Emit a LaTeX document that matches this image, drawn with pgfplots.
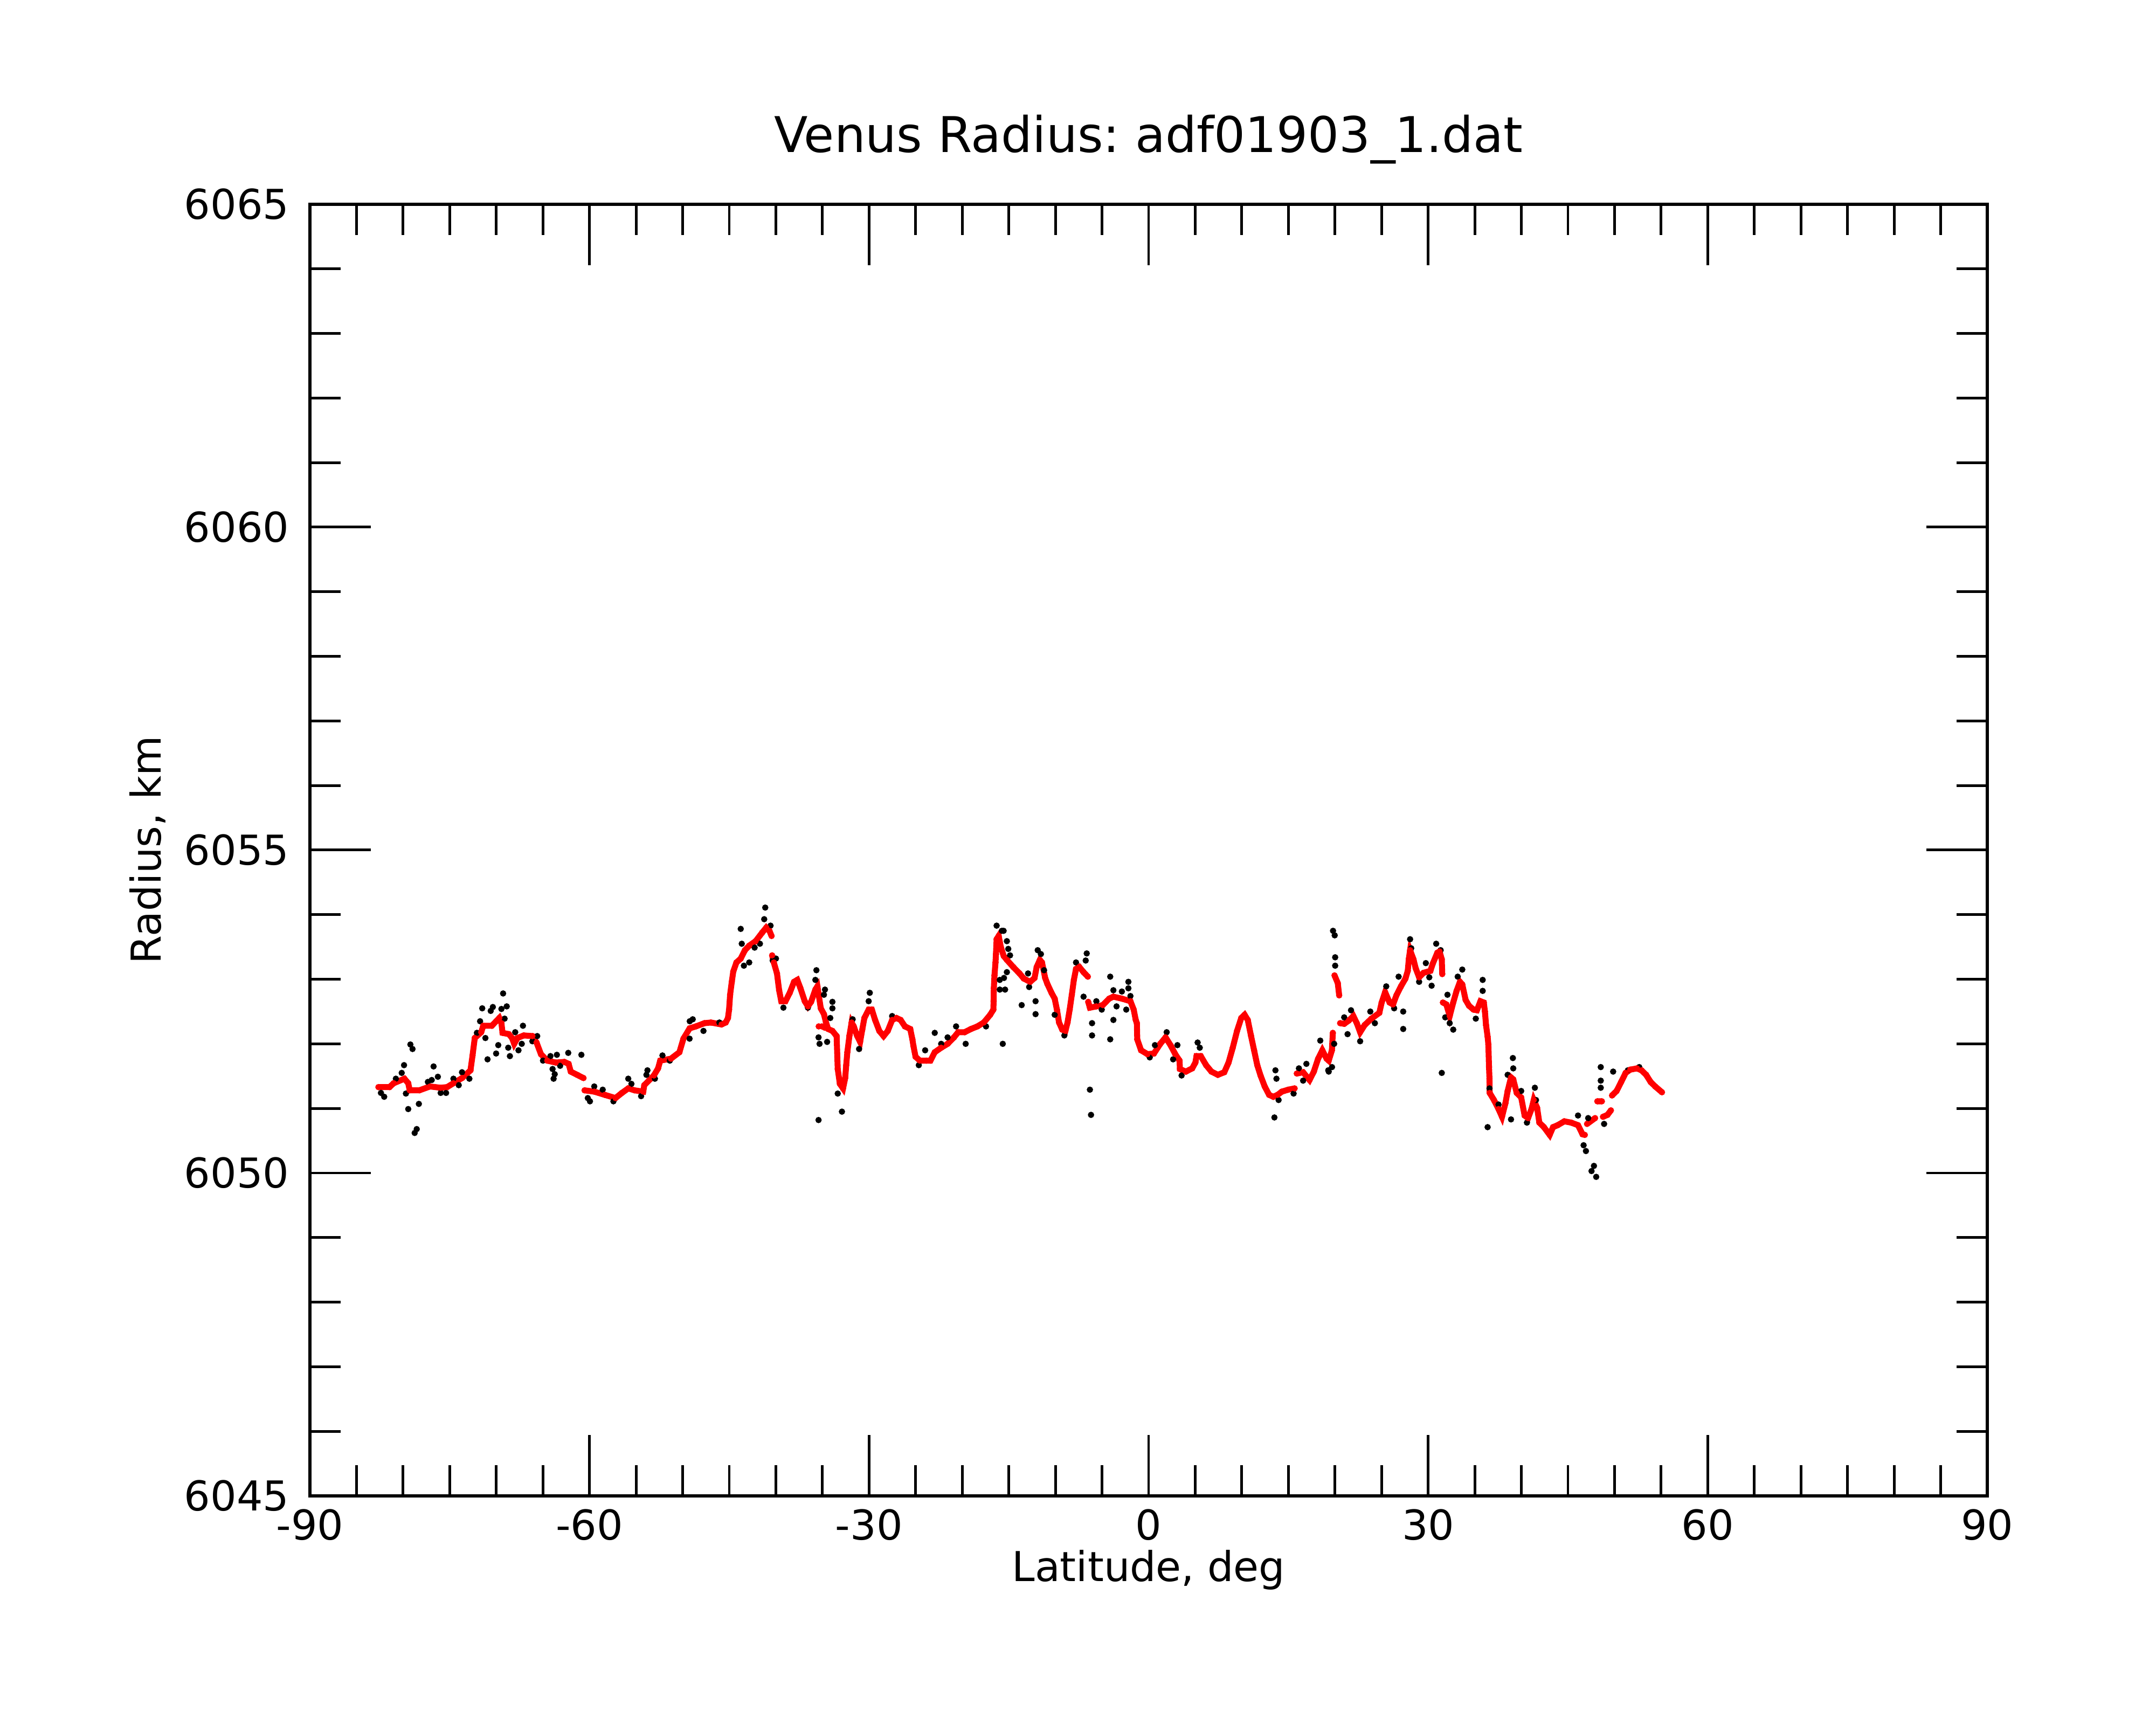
\documentclass[border=0pt]{standalone}
\usepackage{fontspec}
\setmainfont{DejaVu Sans}
\usepackage{pgfplots}
\usepackage{pgfplotstable}
\pgfplotsset{compat=1.18}

\pgfplotstableread{
lat r
-82.65 6051.33
-81.46 6051.33
-81.01 6051.39
-79.86 6051.46
-79.45 6051.39
-79.29 6051.28
-78.26 6051.28
-77.11 6051.34
-75.97 6051.32
-75.28 6051.33
-74.60 6051.39
-73.68 6051.47
-72.77 6051.59
-72.55 6051.82
-72.31 6052.09
-71.62 6052.18
-71.40 6052.28
-70.48 6052.28
-69.68 6052.40
-69.45 6052.32
-69.33 6052.17
-68.65 6052.15
-68.31 6052.09
-68.08 6052.00
-67.73 6052.09
-67.05 6052.13
-66.13 6052.12
-65.68 6052.02
-65.21 6051.84
-64.53 6051.74
-63.62 6051.71
-62.70 6051.72
-62.24 6051.69
-62.01 6051.57
-61.33 6051.52
-60.64 6051.47
-60.60 nan
-60.53 6051.28
-59.49 6051.26
-58.36 6051.21
-57.21 6051.16
-56.52 6051.24
-55.84 6051.31
-55.16 6051.28
-54.23 6051.26
-54.12 6051.36
-53.09 6051.51
-52.64 6051.62
-52.41 6051.74
-51.26 6051.77
-50.35 6051.87
-49.92 6052.08
-49.25 6052.24
-48.58 6052.27
-47.66 6052.32
-46.97 6052.33
-45.83 6052.30
-45.38 6052.33
-45.14 6052.40
-45.02 6052.53
-44.91 6052.76
-44.73 6052.96
-44.57 6053.12
-44.23 6053.26
-43.77 6053.32
-43.32 6053.45
-42.86 6053.52
-42.17 6053.59
-41.48 6053.72
-41.03 6053.80
-40.69 6053.75
-40.46 6053.67
-40.43 nan
-40.40 6053.37
-40.22 6053.26
-39.88 6053.09
-39.65 6052.83
-39.42 6052.66
-38.97 6052.66
-38.51 6052.79
-38.05 6052.96
-37.70 6052.99
-37.36 6052.86
-36.90 6052.66
-36.56 6052.58
-36.22 6052.65
-35.76 6052.84
-35.54 6052.89
-35.18 6052.55
-34.84 6052.46
-34.62 6052.33
-34.39 6052.23
-33.93 6052.20
-33.48 6052.12
-33.36 6051.61
-33.13 6051.38
-32.79 6051.31
-32.56 6051.47
-32.45 6051.67
-32.33 6051.87
-32.10 6052.13
-31.87 6052.33
-31.64 6052.27
-31.30 6052.13
-30.96 6052.03
-30.73 6052.22
-30.50 6052.40
-30.04 6052.53
-29.70 6052.53
-29.35 6052.37
-28.90 6052.20
-28.44 6052.12
-27.99 6052.20
-27.52 6052.37
-27.06 6052.40
-26.61 6052.37
-26.15 6052.27
-25.58 6052.23
-25.35 6052.07
-25.24 6051.97
-25.01 6051.80
-24.55 6051.74
-23.86 6051.74
-23.41 6051.74
-22.95 6051.87
-22.26 6051.94
-21.57 6052.00
-20.89 6052.10
-20.44 6052.18
-19.74 6052.18
-19.06 6052.23
-18.37 6052.27
-17.69 6052.33
-17.00 6052.45
-16.66 6052.53
-16.63 6052.66
-16.61 6052.86
-16.54 6053.06
-16.43 6053.26
-16.38 6053.39
-16.31 6053.62
-16.09 6053.67
-15.86 6053.50
-15.55 6053.36
-15.21 6053.30
-14.53 6053.19
-13.85 6053.09
-13.39 6053.01
-12.71 6052.96
-12.24 6053.02
-12.01 6053.19
-11.67 6053.30
-11.44 6053.26
-11.10 6053.02
-10.87 6052.93
-10.42 6052.79
-10.08 6052.70
-9.84 6052.53
-9.61 6052.33
-9.27 6052.22
-8.93 6052.20
-8.70 6052.33
-8.47 6052.53
-8.24 6052.76
-8.02 6052.99
-7.79 6053.16
-7.44 6053.19
-6.98 6053.11
-6.52 6053.04
-6.50 nan
-6.48 6052.65
-6.30 6052.56
-5.61 6052.58
-4.92 6052.60
-4.23 6052.70
-3.78 6052.73
-2.87 6052.70
-1.95 6052.66
-1.60 6052.53
-1.38 6052.37
-1.26 6052.32
-1.22 6052.07
-0.81 6051.90
-0.12 6051.84
0.57 6051.85
1.25 6052.00
1.82 6052.10
2.39 6051.97
2.86 6051.84
3.32 6051.74
3.36 6051.61
4.00 6051.57
4.68 6051.62
5.02 6051.71
5.14 6051.81
5.60 6051.81
6.17 6051.67
6.74 6051.57
7.43 6051.52
8.12 6051.56
8.58 6051.71
9.03 6051.94
9.49 6052.20
9.94 6052.40
10.30 6052.45
10.64 6052.37
10.98 6052.13
11.32 6051.90
11.66 6051.67
12.01 6051.51
12.46 6051.34
12.93 6051.21
13.38 6051.18
13.84 6051.21
14.30 6051.26
14.98 6051.29
15.67 6051.31
15.78 nan
15.90 6051.54
16.58 6051.56
17.27 6051.44
17.73 6051.57
18.19 6051.77
18.64 6051.90
19.10 6051.77
19.33 6051.74
19.67 6051.90
19.77 6052.17
19.85 nan
19.95 6053.06
20.30 6052.94
20.45 6052.75
20.50 nan
20.55 6052.32
20.99 6052.31
21.48 6052.36
21.97 6052.43
22.34 6052.32
22.70 6052.18
23.18 6052.29
23.91 6052.39
24.76 6052.48
25.01 6052.64
25.38 6052.80
25.86 6052.64
26.23 6052.61
26.59 6052.75
27.08 6052.89
27.56 6053.01
27.81 6053.13
27.93 6053.32
28.06 6053.45
28.42 6053.31
28.66 6053.17
29.03 6053.03
29.51 6053.10
30.24 6053.13
30.49 6053.24
30.98 6053.41
31.22 6053.43
31.46 6053.31
31.51 6053.08
31.55 nan
31.58 6052.64
31.95 6052.61
32.31 6052.43
32.69 6052.64
33.05 6052.82
33.41 6052.96
33.66 6052.92
34.02 6052.68
34.38 6052.59
34.87 6052.53
35.23 6052.52
35.61 6052.66
35.97 6052.64
36.09 6052.50
36.21 6052.29
36.38 6052.11
36.46 6051.99
36.53 6051.64
36.58 6051.46
36.60 6051.24
37.06 6051.13
37.55 6050.99
37.92 6050.87
38.29 6051.08
38.53 6051.27
38.89 6051.48
39.13 6051.45
39.50 6051.24
39.98 6051.17
40.35 6050.89
40.72 6050.85
41.09 6050.99
41.33 6051.13
41.69 6051.01
41.93 6050.78
42.42 6050.71
43.04 6050.59
43.40 6050.71
43.89 6050.74
44.61 6050.80
45.35 6050.78
46.08 6050.74
46.56 6050.60
46.81 6050.59
46.90 nan
47.05 6050.76
47.91 6050.85
48.00 nan
48.15 6051.11
48.64 6051.11
48.70 nan
48.76 6050.87
49.24 6050.90
49.61 6050.97
49.67 nan
49.73 6051.20
50.22 6051.27
50.71 6051.41
51.19 6051.55
51.68 6051.60
52.41 6051.62
52.89 6051.59
53.39 6051.52
53.87 6051.41
54.36 6051.34
55.09 6051.25
}\redtable

\pgfplotstableread{
lat r
-82.38 6051.24
-82.03 6051.18
-80.78 6051.46
-80.15 6051.55
-79.90 6051.67
-79.22 6051.99
-78.99 6051.92
-79.70 6051.23
-79.45 6050.99
-78.31 6051.07
-78.76 6050.62
-78.54 6050.68
-77.34 6051.41
-76.93 6051.44
-76.73 6051.65
-76.27 6051.49
-75.97 6051.24
-75.39 6051.24
-74.60 6051.46
-74.03 6051.36
-73.68 6051.56
-72.89 6051.46
-72.08 6052.17
-71.74 6052.35
-71.51 6052.55
-71.17 6052.09
-70.94 6051.76
-70.60 6052.51
-70.37 6052.57
-70.02 6051.85
-69.79 6051.98
-69.45 6052.54
-69.27 6052.78
-69.11 6052.39
-68.88 6052.58
-68.54 6051.81
-68.72 6051.94
-67.97 6052.18
-67.62 6051.90
-67.27 6052.00
-67.14 6052.28
-66.13 6052.04
-65.61 6052.12
-64.99 6051.74
-64.19 6051.81
-63.96 6051.61
-63.73 6051.53
-63.85 6051.46
-63.50 6051.83
-63.15 6051.66
-62.28 6051.86
-60.87 6051.83
-60.18 6051.16
-59.95 6051.11
-59.49 6051.34
-58.58 6051.29
-57.43 6051.11
-55.84 6051.46
-55.50 6051.38
-54.46 6051.19
-53.78 6051.59
-53.89 6051.52
-52.98 6051.46
-52.17 6051.82
-51.38 6051.74
-49.24 6052.35
-49.26 6052.08
-48.92 6052.38
-47.77 6052.20
-46.06 6052.33
-43.77 6053.78
-43.66 6053.55
-43.43 6053.21
-42.86 6053.26
-42.28 6053.49
-41.71 6053.55
-41.25 6053.93
-41.14 6054.11
-40.57 6053.83
-40.34 6053.29
-39.99 6053.32
-39.19 6052.56
-36.56 6052.56
-35.65 6053.14
-35.76 6052.99
-35.42 6052.10
-35.31 6052.00
-35.42 6050.82
-34.73 6052.84
-34.84 6052.76
-33.93 6052.65
-33.93 6052.55
-34.50 6052.03
-34.16 6052.40
-33.36 6051.23
-32.91 6050.95
-31.76 6052.38
-31.07 6051.92
-29.92 6052.79
-30.04 6052.66
-27.52 6052.43
-24.66 6051.67
-23.98 6051.90
-22.95 6052.17
-22.26 6052.00
-21.57 6052.10
-20.66 6052.27
-19.63 6052.00
-17.45 6052.27
-16.31 6053.83
-15.74 6053.75
-15.06 6053.47
-15.97 6052.99
-15.52 6053.02
-15.97 6052.84
-15.40 6052.84
-15.65 6052.00
-15.56 6053.75
-15.21 6053.59
-14.87 6053.37
-15.21 6053.11
-13.62 6052.60
-12.94 6053.09
-12.82 6052.88
-12.13 6052.66
-12.13 6052.46
-11.90 6053.45
-11.56 6053.39
-11.22 6053.14
-10.08 6052.45
-9.04 6052.13
-7.79 6053.26
-6.64 6053.40
-6.75 6053.29
-6.98 6052.73
-6.30 6051.29
-6.18 6050.90
-6.07 6052.32
-6.07 6052.13
-5.61 6052.66
-5.03 6052.53
-4.12 6053.04
-3.78 6052.37
-4.12 6052.07
-3.78 6052.83
-3.44 6052.58
-2.87 6052.81
-2.40 6052.53
-2.17 6052.96
-2.17 6052.86
-1.95 6052.74
0.12 6051.79
0.68 6051.98
1.94 6052.18
3.09 6051.98
2.63 6051.76
3.54 6051.51
5.26 6052.02
5.49 6051.94
13.61 6051.59
13.72 6051.46
13.50 6050.86
13.95 6051.13
15.56 6051.23
16.13 6051.62
16.93 6051.69
16.58 6051.43
18.42 6052.05
19.33 6051.57
19.79 6053.75
20.02 6053.34
20.02 6053.21
19.91 6052.00
19.68 6051.64
19.28 6051.59
19.97 6053.68
20.99 6052.41
21.35 6052.15
21.72 6052.52
22.70 6052.04
23.79 6052.50
24.28 6052.32
25.50 6052.89
26.35 6052.55
26.83 6053.04
27.32 6052.50
27.32 6052.23
28.06 6053.62
28.18 6053.48
29.03 6052.96
29.75 6053.25
30.12 6053.03
30.37 6052.90
30.86 6053.55
31.34 6053.45
31.46 6051.55
32.07 6052.76
31.83 6052.41
32.31 6052.32
32.69 6052.22
33.17 6053.04
33.66 6053.15
35.11 6052.39
35.85 6052.99
35.85 6052.82
36.38 6050.71
36.58 6051.31
37.55 6051.06
38.89 6050.83
39.09 6051.78
39.13 6051.62
38.53 6051.52
39.98 6051.27
40.60 6050.78
41.45 6051.32
41.57 6051.13
46.08 6050.89
46.68 6050.43
46.93 6050.34
47.79 6050.11
47.53 6050.03
48.03 6049.94
47.17 6050.85
48.52 6051.64
48.52 6051.43
48.52 6051.32
49.85 6051.57
48.88 6050.76
51.43 6051.59
52.65 6051.64
}\blacktable

\pgfplotstableread{
lat r
-35.40 6052.27
-35.06 6052.27
-34.76 6052.25
}\redextra

\begin{document}
\frenchspacing
\begin{tikzpicture}
\path[use as bounding box] (0,0) rectangle (10in,8in);
\begin{axis}[
  at={(1.4375in,1.0625in)}, anchor=south west,
  scale only axis, width=7.78in, height=5.99in,
  xmin=-90, xmax=90, ymin=6045, ymax=6065,
  xtick={-90,-60,-30,0,30,60,90},
  xticklabels={-90,-60,-30,0,30,60,90},
  ytick={6045,6050,6055,6060,6065},
  yticklabels={6045,6050,6055,6060,6065},
  minor x tick num=5, minor y tick num=4,
  tick align=inside, tick pos=both,
  major tick length=20.5pt, minor tick length=10.3pt,
  tick style={black, line width=0.9pt},
  axis line style={line width=1pt},
  tick label style={font=\fontsize{13.8}{16.6}\selectfont},
  xticklabel style={anchor=north, inner sep=0pt, yshift=-4.3pt},
  yticklabel style={anchor=east, inner sep=0pt, xshift=-6.8pt},
  title={Venus Radius: adf01903\_1.dat},
  title style={font=\fontsize{16.5}{19.8}\selectfont, at={(rel axis cs:0.5,1)}, anchor=base, yshift=11.5pt, inner sep=0pt},
  xlabel={Latitude, deg},
  xlabel style={font=\fontsize{13.8}{16.6}\selectfont, at={(rel axis cs:0.5,0)}, anchor=base, yshift=-28.7pt, inner sep=0pt},
  ylabel={Radius, km},
  ylabel style={font=\fontsize{13.8}{16.6}\selectfont, at={(rel axis cs:-0.089,0.5)}, anchor=base, inner sep=0pt},
  unbounded coords=jump,
]
\addplot[only marks, mark=*, mark size=1.0pt, black, mark options={line width=0.1pt}] table[x=lat, y=r] {\blacktable};
\addplot[red, line width=2pt, mark=*, mark size=1.0pt, mark options={solid, line width=0.1pt, fill=red, draw=red}] table[x=lat, y=r] {\redtable};
\addplot[only marks, red, mark=*, mark size=1.0pt, mark options={line width=0.1pt, fill=red, draw=red}] table[x=lat, y=r] {\redextra};
\end{axis}
\end{tikzpicture}
\end{document}
